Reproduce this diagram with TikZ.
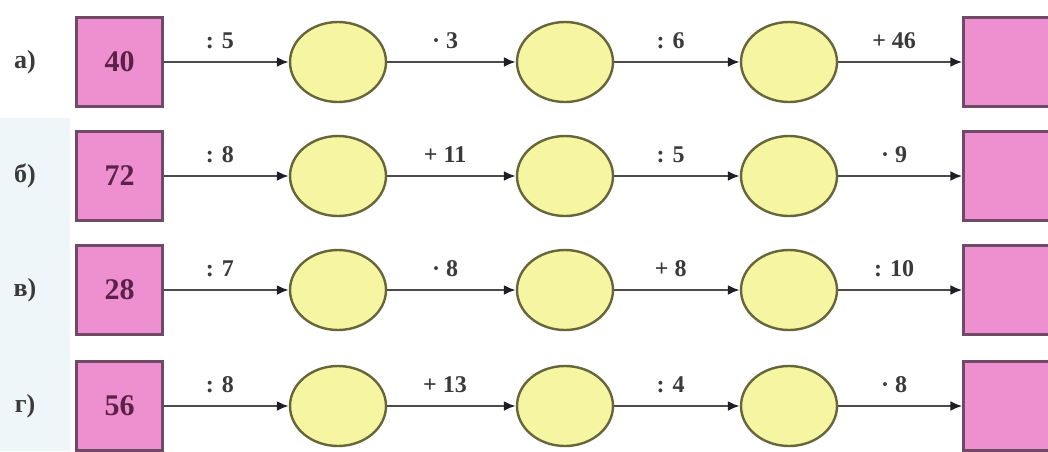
\documentclass[tikz,border=0pt]{standalone}
\usepackage{fontspec}
\setmainfont{Liberation Serif}
\usetikzlibrary{arrows.meta, shapes.geometric}
\definecolor{boxpink}{HTML}{EE8FCF}
\definecolor{boxedge}{HTML}{6E4A66}
\definecolor{numtext}{HTML}{5B2249}
\definecolor{ovalfill}{HTML}{F6F6A2}
\definecolor{ovaledge}{HTML}{66663A}
\definecolor{linegray}{HTML}{4A4A4A}
\definecolor{tipdark}{HTML}{1E1E28}
\definecolor{labtext}{HTML}{3A3A3A}
\definecolor{paleblue}{HTML}{EEF6FA}

\begin{document}
\begin{tikzpicture}[
  x=1pt, y=1pt,
  >={Latex[length=12pt, width=10pt, color=tipdark]},
  numbox/.style={draw=boxedge, line width=2.2pt, fill=boxpink, minimum width=86pt,
    minimum height=89pt, inner sep=0pt, font=\fontsize{30}{32}\bfseries\selectfont,
    text=numtext},
  oval/.style={ellipse, draw=ovaledge, line width=2.4pt, fill=ovalfill,
    minimum width=96pt, minimum height=80pt, inner sep=0pt},
  rowlab/.style={font=\fontsize{26}{28}\bfseries\selectfont, text=labtext},
  oplab/.style={above=11pt, pos=0.45, font=\fontsize{24}{26}\bfseries\selectfont,
    text=labtext, inner sep=1pt},
  arr/.style={->, line width=2.6pt, linegray},
]

% Frame
\useasboundingbox (0,0) rectangle (1048,-451);
\fill[white] (0,0) rectangle (1048,-451);
\fill[paleblue] (0,-118) rectangle (70,-451);

% =============================================
% Row a: 40
% =============================================
\node[rowlab] (la) at (25,-62) {а)};
\node[numbox] (a0) at (119.5,-62) {40};
\node[oval] (a1) at (338,-62) {};
\node[oval] (a2) at (565,-62) {};
\node[oval] (a3) at (789,-62) {};
\node[numbox] (a4) at (1006.5,-62) {};
\draw[arr] (a0.east) -- (a1.west) node[oplab] {: 5};
\draw[arr] (a1.east) -- (a2.west) node[oplab] {· 3};
\draw[arr] (a2.east) -- (a3.west) node[oplab] {: 6};
\draw[arr] (a3.east) -- (a4.west) node[oplab] {+ 46};

% =============================================
% Row b: 72
% =============================================
\node[rowlab] (lb) at (25,-176) {б)};
\node[numbox] (b0) at (119.5,-176) {72};
\node[oval] (b1) at (338,-176) {};
\node[oval] (b2) at (565,-176) {};
\node[oval] (b3) at (789,-176) {};
\node[numbox] (b4) at (1006.5,-176) {};
\draw[arr] (b0.east) -- (b1.west) node[oplab] {: 8};
\draw[arr] (b1.east) -- (b2.west) node[oplab] {+ 11};
\draw[arr] (b2.east) -- (b3.west) node[oplab] {: 5};
\draw[arr] (b3.east) -- (b4.west) node[oplab] {· 9};

% =============================================
% Row c: 28
% =============================================
\node[rowlab] (lc) at (25,-290) {в)};
\node[numbox] (c0) at (119.5,-290) {28};
\node[oval] (c1) at (338,-290) {};
\node[oval] (c2) at (565,-290) {};
\node[oval] (c3) at (789,-290) {};
\node[numbox] (c4) at (1006.5,-290) {};
\draw[arr] (c0.east) -- (c1.west) node[oplab] {: 7};
\draw[arr] (c1.east) -- (c2.west) node[oplab] {· 8};
\draw[arr] (c2.east) -- (c3.west) node[oplab] {+ 8};
\draw[arr] (c3.east) -- (c4.west) node[oplab] {: 10};

% =============================================
% Row d: 56
% =============================================
\node[rowlab] (ld) at (25,-406) {г)};
\node[numbox] (d0) at (119.5,-406) {56};
\node[oval] (d1) at (338,-406) {};
\node[oval] (d2) at (565,-406) {};
\node[oval] (d3) at (789,-406) {};
\node[numbox] (d4) at (1006.5,-406) {};
\draw[arr] (d0.east) -- (d1.west) node[oplab] {: 8};
\draw[arr] (d1.east) -- (d2.west) node[oplab] {+ 13};
\draw[arr] (d2.east) -- (d3.west) node[oplab] {: 4};
\draw[arr] (d3.east) -- (d4.west) node[oplab] {· 8};

\end{tikzpicture}
\end{document}
